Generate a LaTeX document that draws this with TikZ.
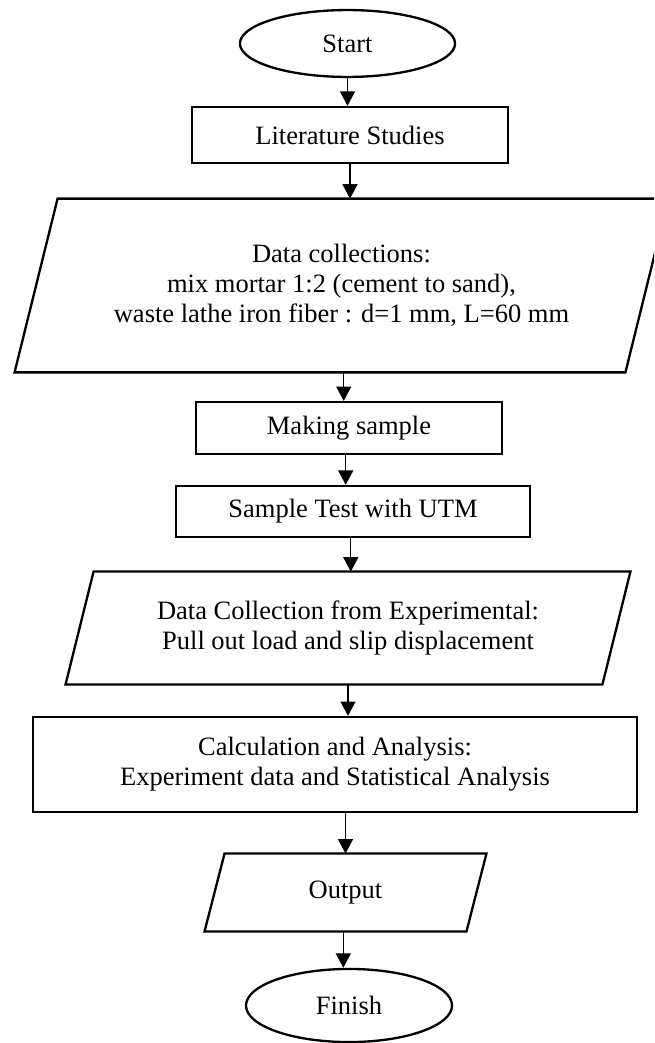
\documentclass[tikz,border=0pt]{standalone}
\usepackage{fontspec}
\setmainfont{Liberation Serif}
\usepackage{tikz}
\usetikzlibrary{shapes.geometric,arrows.meta}
\tikzstyle{es} = [-{Triangle[length=6.5pt,width=6.8pt]}, line width=0.55pt]
\tikzstyle{term} = [ellipse, draw, line width=1.05pt, inner sep=0pt]
\tikzstyle{proc} = [rectangle, draw, line width=1.05pt, inner sep=0pt, align=center]
\tikzstyle{io} = [rectangle, inner sep=0pt, align=center]
\tikzstyle{iobox} = [line width=1.05pt, line join=miter]
% slanted box round an io node: #1 node, #2 half of the slant
\newcommand{\slantbox}[2]{\draw[iobox] ([xshift=#2]#1.north west) -- ([xshift=#2]#1.north east)
	-- ([xshift=-#2]#1.south east) -- ([xshift=-#2]#1.south west) -- cycle;}

\begin{document}
\begin{tikzpicture}[x=0.4528pt,y=-0.4528pt,font=\fontsize{12pt}{13.6pt}\selectfont]
			\useasboundingbox (0,0) rectangle (654,1043);
			\clip (0,0) rectangle (654,1043);
			\node[term, minimum width=97.4pt, minimum height=30.3pt] (start) at (347.5,43.5) {Start};
			\node[proc, minimum width=142.9pt, minimum height=25.4pt] (lit) at (350,135) {Literature Studies};
			\node[io, minimum width=276.2pt, minimum height=78.3pt] (data) at (341.5,285.5) {Data collections:\\mix mortar 1:2 (cement to sand),\\waste lathe iron fiber : d=1 mm, L=60 mm};
			\slantbox{data}{9.74pt}
			\node[proc, minimum width=138.6pt, minimum height=23.5pt] (make) at (349,428) {Making sample};
			\node[proc, minimum width=160.3pt, minimum height=23.1pt] (test) at (353,511.5) {Sample Test with UTM};
			\node[io, minimum width=242.7pt, minimum height=50.7pt] (exp) at (348,628) {Data Collection from Experimental:\\Pull out load and slip displacement};
			\slantbox{exp}{6.34pt}
			\node[proc, minimum width=273.7pt, minimum height=43pt] (calc) at (335,764.5) {Calculation and Analysis:\\Experiment data and Statistical Analysis};
			\node[io, minimum width=118.2pt, minimum height=34.9pt] (out) at (345.5,892.5) {Output};
			\slantbox{out}{4.53pt}
			\node[term, minimum width=93.3pt, minimum height=33.1pt] (fin) at (349,1005.5) {Finish};
			\draw [es] (start.south) -- (start.south |- lit.north);
			\draw [es] (lit.south) -- (lit.south |- data.north);
			\draw [es] ([xshift=1pt]data.south) -- ([xshift=1pt]data.south |- make.north);
			\draw [es] ([xshift=-1.5pt]make.south) -- ([xshift=-1.5pt]make.south |- test.north);
			\draw [es] ([xshift=-1pt]test.south) -- ([xshift=-1pt]test.south |- exp.north);
			\draw [es] (exp.south) -- (exp.south |- calc.north);
			\draw [es] (out.north |- calc.south) -- (out.north);
			\draw [es] ([xshift=-1pt]out.south) -- ([xshift=-1pt]out.south |- fin.north);
		\end{tikzpicture}
\end{document}
